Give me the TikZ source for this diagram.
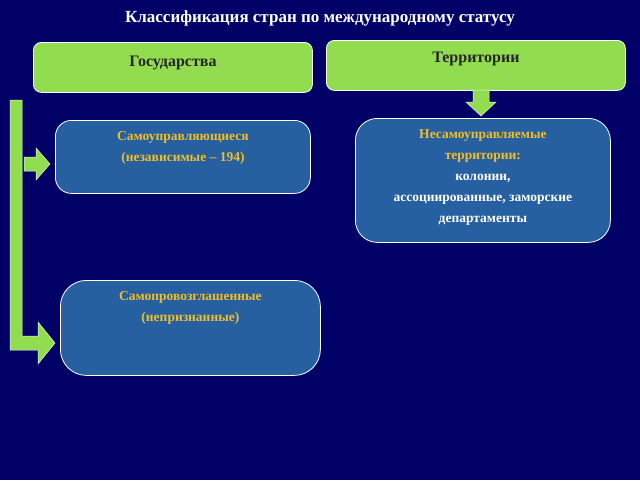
\documentclass[tikz,border=0pt]{standalone}
\usepackage{fontspec}
\setmainfont{Liberation Serif}
\usetikzlibrary{positioning}
\definecolor{bgnavy}{RGB}{0,0,102}
\definecolor{boxblue}{RGB}{38,96,160}
\definecolor{limegreen}{RGB}{146,220,80}
\definecolor{txtyellow}{RGB}{240,190,40}
\begin{document}
\begin{tikzpicture}[x=1pt, y=-1pt,
    greenbox/.style={draw=white, line width=0.8pt, fill=limegreen, rounded corners=8pt,
      anchor=north west},
    bluebox/.style={draw=white, line width=0.8pt, fill=boxblue, rounded corners=16pt,
      anchor=north west},
    headtext/.style={font=\bfseries\fontsize{16}{18}\selectfont, text=black!85, inner sep=0pt},
    boxtext/.style={align=center, text=txtyellow, inner sep=0pt,
      font=\bfseries\fontsize{13.5}{21}\selectfont},
    blockarrow/.style={fill=limegreen, draw=white!80!limegreen, line width=0.5pt} ]
    \fill[bgnavy] (0,0) rectangle (640,480);
    \useasboundingbox (0,0) rectangle (640,480);

    % Title
    \node[text=white, font=\bfseries\fontsize{17}{19}\selectfont] (title) at (320,18)
    {Классификация стран по международному статусу};

    % Green headers
    \node[greenbox, minimum width=279pt, minimum height=50pt] (states) at (33,42) {};
    \node[headtext, below=14pt of states.north] {Государства};
    \node[greenbox, minimum width=299pt, minimum height=50pt] (terr) at (326,40) {};
    \node[headtext, below=12pt of terr.north] {Территории};

    % Blue boxes
    \node[bluebox, minimum width=255pt, minimum height=73pt] (selfgov) at (55,120) {};
    \node[boxtext, below=11pt of selfgov.north] {Самоуправляющиеся\\(независимые -- 194)};
    \node[bluebox, minimum width=255pt, minimum height=124pt, rounded corners=22pt] (nonself) at (355,118) {};
    \node[boxtext, below=11pt of nonself.north] {Несамоуправляемые\\территории:\\\textcolor{white}{колонии,}\\
     \textcolor{white}{ассоциированные, заморские}\\\textcolor{white}{департаменты}};
    \node[bluebox, minimum width=260pt, minimum height=95pt, rounded corners=26pt] (selfdecl) at (60,280) {};
    \node[boxtext, below=11pt of selfdecl.north] {Самопровозглашенные\\(непризнанные)};

    % Block arrows
    \draw[blockarrow] (10,100) -- (22,100) -- (22,336) -- (38,336) -- (38,322)
      -- (55,343) -- (38,364) -- (38,350) -- (10,350) -- cycle;
    \draw[blockarrow] (24,157) -- (36,157) -- (36,148) -- (50,164) -- (36,180)
      -- (36,171) -- (24,171) -- cycle;
    \draw[blockarrow] (473,90) -- (489,90) -- (489,102) -- (496,102) -- (481,116)
      -- (466,102) -- (473,102) -- cycle;
\end{tikzpicture}
\end{document}
